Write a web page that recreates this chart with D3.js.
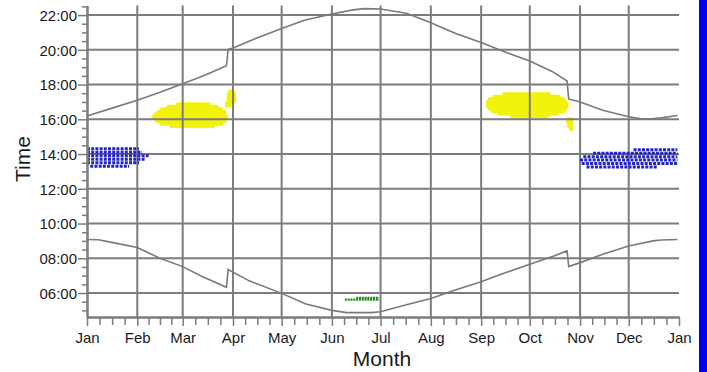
<!DOCTYPE html>
<html><head><meta charset="utf-8">
<script src="https://cdn.jsdelivr.net/npm/d3@7"></script>
<style>
html,body{margin:0;padding:0;background:#fff;overflow:hidden;}
svg{display:block;font-family:"Liberation Sans",Arial,sans-serif;}
</style>
</head><body>
<svg id="chart" width="707" height="372"></svg>
<script>
// ---------- data ----------
const monthLabels = ["Jan","Feb","Mar","Apr","May","Jun","Jul","Aug","Sep","Oct","Nov","Dec","Jan"];
const hourTicks = [6, 8, 10, 12, 14, 16, 18, 20, 22];

// sunset (upper curve), local clock time in hours
const sunsetDates = ["2023-01-01","2023-01-15","2023-02-01","2023-02-15","2023-03-01","2023-03-15","2023-03-28","2023-03-29","2023-04-01","2023-04-15","2023-05-01","2023-05-15","2023-06-01","2023-06-14","2023-06-21","2023-07-01","2023-07-17","2023-08-01","2023-08-16","2023-09-01","2023-09-15","2023-10-01","2023-10-15","2023-10-24","2023-10-25","2023-11-01","2023-11-15","2023-12-01","2023-12-08","2023-12-14","2023-12-21","2023-12-31"];
const sunsetTimes = [16.19,16.6,17.09,17.55,18.04,18.55,19.08,20.02,20.1,20.65,21.23,21.7,22.06,22.3,22.37,22.35,22.1,21.56,20.95,20.42,19.9,19.35,18.74,18.2,17.17,17.0,16.52,16.15,16.05,16.02,16.08,16.22];

// sunrise (lower curve)
const sunriseDates = ["2023-01-01","2023-01-08","2023-01-17","2023-02-01","2023-02-15","2023-03-01","2023-03-13","2023-03-28","2023-03-29","2023-04-11","2023-05-01","2023-05-16","2023-06-01","2023-06-10","2023-06-25","2023-07-01","2023-07-14","2023-08-01","2023-08-16","2023-09-01","2023-09-12","2023-10-01","2023-10-15","2023-10-24","2023-10-25","2023-11-01","2023-11-15","2023-12-01","2023-12-16","2023-12-21","2023-12-31"];
const sunriseTimes = [9.08,9.07,8.9,8.62,8.0,7.52,6.95,6.33,7.35,6.7,5.98,5.37,5.0,4.87,4.87,4.92,5.25,5.69,6.17,6.65,7.04,7.65,8.1,8.42,7.52,7.75,8.23,8.71,9.0,9.05,9.08];

// observation clusters: rows of [time, first date, last date]
const yellowSpring = [
  [16.88,"2023-02-26","2023-03-17"],
  [16.74,"2023-02-20","2023-03-22"],
  [16.59,"2023-02-16","2023-03-25"],
  [16.45,"2023-02-14","2023-03-27"],
  [16.31,"2023-02-12","2023-03-27"],
  [16.16,"2023-02-11","2023-03-28"],
  [16.02,"2023-02-12","2023-03-28"],
  [15.87,"2023-02-13","2023-03-27"],
  [15.73,"2023-02-16","2023-03-25"],
  [15.59,"2023-02-22","2023-03-20"],
  [17.63,"2023-03-30","2023-04-01"],
  [17.48,"2023-03-29","2023-04-02"],
  [17.34,"2023-03-29","2023-04-02"],
  [17.2,"2023-03-29","2023-04-02"],
  [17.05,"2023-03-29","2023-04-02"],
  [16.91,"2023-03-28","2023-04-01"],
  [16.77,"2023-03-28","2023-03-30"]
];
const yellowAutumn = [
  [17.46,"2023-09-15","2023-10-13"],
  [17.31,"2023-09-09","2023-10-19"],
  [17.17,"2023-09-06","2023-10-22"],
  [17.02,"2023-09-05","2023-10-23"],
  [16.88,"2023-09-05","2023-10-24"],
  [16.74,"2023-09-05","2023-10-24"],
  [16.59,"2023-09-06","2023-10-23"],
  [16.45,"2023-09-08","2023-10-22"],
  [16.31,"2023-09-12","2023-10-18"],
  [16.16,"2023-09-20","2023-10-12"],
  [16.02,"2023-10-24","2023-10-27"],
  [15.87,"2023-10-24","2023-10-27"],
  [15.73,"2023-10-25","2023-10-27"],
  [15.59,"2023-10-25","2023-10-27"],
  [15.44,"2023-10-26","2023-10-27"]
];
const blueWinterStart = [
  [14.3,"2023-01-01","2023-02-02"],
  [14.1,"2023-01-01","2023-02-04"],
  [13.9,"2023-01-01","2023-02-08"],
  [13.7,"2023-01-01","2023-02-06"],
  [13.5,"2023-01-01","2023-02-02"],
  [13.3,"2023-01-03","2023-01-27"]
];
const blueWinterEnd = [
  [14.25,"2023-12-04","2023-12-31"],
  [14.05,"2023-11-09","2023-12-31"],
  [13.85,"2023-11-03","2023-12-31"],
  [13.65,"2023-11-01","2023-12-31"],
  [13.45,"2023-11-02","2023-12-31"],
  [13.25,"2023-11-05","2023-12-19"]
];
const greenSummer = [
  [5.72,"2023-06-16","2023-06-30"],
  [5.62,"2023-06-09","2023-06-30"]
];

// ---------- chart ----------
const parse = d3.timeParse("%Y-%m-%d");
const svg = d3.select("#chart");
const W = 707, H = 372;
svg.append("rect").attr("width", W).attr("height", H).attr("fill", "#fff");

const defs = svg.append("defs");
defs.append("filter").attr("id", "soft").attr("x", "-10%").attr("y", "-30%").attr("width", "120%").attr("height", "160%")
  .append("feGaussianBlur").attr("stdDeviation", 0.7);

const x = d3.scaleTime().domain([parse("2023-01-01"), parse("2024-01-01")]).range([87, 679]);
const y = d3.scaleLinear().domain([4.62, 22.55]).range([317, 5.5]);

const gridColor = "#7c7c7c";
const monthStarts = d3.timeMonth.range(parse("2023-01-01"), parse("2024-01-02"));

function drawRows(rows, color, width, cap, dash, filter) {
  const g = svg.append("g");
  if (filter) g.attr("filter", filter);
  g.selectAll("line").data(rows).join("line")
    .attr("x1", d => x(parse(d[1])))
    .attr("x2", d => x(parse(d[2])))
    .attr("y1", d => y(d[0]))
    .attr("y2", d => y(d[0]))
    .attr("stroke", color)
    .attr("stroke-width", width)
    .attr("stroke-linecap", cap)
    .attr("stroke-dasharray", dash);
}
// yellow clusters below the grid
drawRows(yellowSpring, "#f2f20c", 3.4, "round", null, "url(#soft)");
drawRows(yellowAutumn, "#f2f20c", 3.4, "round", null, "url(#soft)");

// grid
const grid = svg.append("g");
grid.selectAll("line.v").data(monthStarts.slice(1, 12)).join("line")
  .attr("class", "v")
  .attr("x1", d => x(d)).attr("x2", d => x(d))
  .attr("y1", y.range()[1]).attr("y2", y.range()[0])
  .attr("stroke", gridColor).attr("stroke-width", 2);
grid.selectAll("line.h").data(hourTicks).join("line")
  .attr("class", "h")
  .attr("x1", x.range()[0]).attr("x2", x.range()[1])
  .attr("y1", d => y(d)).attr("y2", d => y(d))
  .attr("stroke", gridColor).attr("stroke-width", 2);

// blue and green clusters
drawRows(blueWinterStart, "#2323c8", 3, "butt", "3 1.2");
drawRows(blueWinterEnd, "#2323c8", 3, "butt", "3 1.2");
drawRows(greenSummer, "#1e8c1e", 2.2, "butt", "2 0.8");

// curves
const line = d3.line().x(d => x(d[0])).y(d => y(d[1]));
const sunset = sunsetDates.map((d, i) => [parse(d), sunsetTimes[i]]);
const sunrise = sunriseDates.map((d, i) => [parse(d), sunriseTimes[i]]);
[sunset, sunrise].forEach(s => {
  svg.append("path").datum(s).attr("d", line)
    .attr("fill", "none").attr("stroke", "#7a7a7a").attr("stroke-width", 1.6);
});

// x axis
const minorX = [];
for (let i = 0; i < 12; i++) {
  const a = +monthStarts[i], b = +monthStarts[i + 1];
  for (let k = 1; k < 4; k++) minorX.push(new Date(a + k * (b - a) / 4));
}
const xAxis = svg.append("g").attr("transform", `translate(0,${y.range()[0]})`)
  .call(d3.axisBottom(x).tickValues(monthStarts).tickSize(9).tickSizeOuter(0)
    .tickFormat((d, i) => monthLabels[i]));
svg.append("g").attr("transform", `translate(0,${y.range()[0]})`)
  .call(d3.axisBottom(x).tickValues(minorX).tickSize(8).tickSizeOuter(0).tickFormat(""));

// y axis
const minorY = d3.range(5, 22.6, 0.5).filter(v => !hourTicks.includes(v));
const yAxis = svg.append("g").attr("transform", `translate(${x.range()[0]},0)`)
  .call(d3.axisLeft(y).tickValues(hourTicks).tickSize(9).tickSizeOuter(0)
    .tickFormat(d => d3.format("02")(d) + ":00"));
svg.append("g").attr("transform", `translate(${x.range()[0]},0)`)
  .call(d3.axisLeft(y).tickValues(minorY).tickSize(5).tickSizeOuter(0).tickFormat(""));

svg.selectAll(".domain").attr("stroke", gridColor).attr("stroke-width", 2);
svg.selectAll(".tick line").attr("stroke", gridColor).attr("stroke-width", 1.5);
xAxis.selectAll(".tick text").attr("font-size", 15).attr("fill", "#1a1a1a")
  .attr("font-family", "Liberation Sans, Arial, sans-serif").attr("dy", null).attr("y", 25.5);
yAxis.selectAll(".tick text").attr("font-size", 15).attr("fill", "#1a1a1a")
  .attr("font-family", "Liberation Sans, Arial, sans-serif").attr("x", -10).attr("dy", "0.36em");

// axis titles
svg.append("text").text("Month")
  .attr("x", 382).attr("y", 366).attr("text-anchor", "middle")
  .attr("font-size", 21).attr("fill", "#1a1a1a");
svg.append("text").text("Time")
  .attr("transform", "translate(30,159) rotate(-90)").attr("text-anchor", "middle")
  .attr("font-size", 21).attr("fill", "#1a1a1a");

// blue frame edge on the right
svg.append("rect").attr("x", 699).attr("y", 0).attr("width", 8).attr("height", H).attr("fill", "#0000f0");
</script>
</body></html>
